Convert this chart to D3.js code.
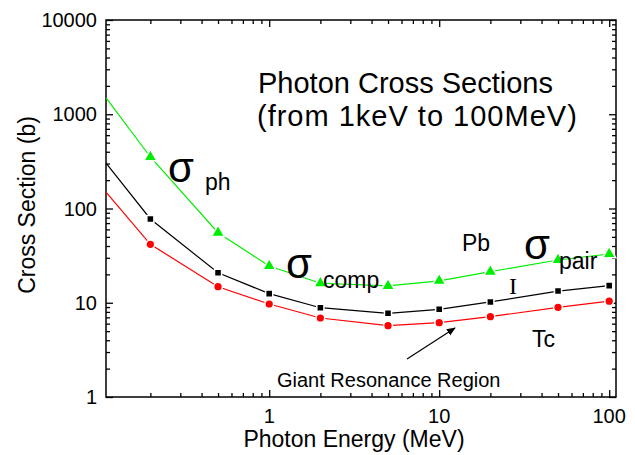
<!DOCTYPE html>
<html>

<head>
  <meta charset="utf-8">
  <style>
    body {
      margin: 0;
      background: #fff;
    }

    svg text {
      font-family: "Liberation Sans", Arial, sans-serif;
      fill: #000;
    }

    .axis path,
    .axis line {
      stroke: #000;
      stroke-width: 1.3px;
    }
  </style>
</head>

<body>
  <svg id="chart" width="635" height="455"></svg>

  <script src="https://d3js.org/d3.v7.min.js"></script>
  <script>
    // photon energies (MeV) where the markers sit
    var energies = [0.2, 0.5, 1, 2, 5, 10, 20, 50, 100];
    // curves start on the left frame edge
    var startEnergy = 0.11;

    // cross sections (b)
    var pbValues = [352, 55.4, 24.5, 16.1, 15.1, 17.1, 21.4, 28.4, 32.9];
    var pbStart = 1480;
    var iValues = [77.4, 20.8, 12.5, 8.86, 7.73, 8.52, 10.2, 13.3, 15.2];
    var iStart = 302;
    var tcValues = [41.7, 14.8, 9.7, 6.89, 5.71, 6.14, 7.11, 8.95, 10.4];
    var tcStart = 148;

    var xTickLabels = [1, 10, 100];
    var yTickLabels = [1, 10, 100, 1000, 10000];

    var svg = d3.select('#chart');
    var plotLeft = 106, plotRight = 616, plotTop = 20, plotBottom = 397;

    var x = d3.scaleLog()
      .domain([Math.pow(10, -0.96), Math.pow(10, 2.04)])
      .range([plotLeft, plotRight]);

    var y = d3.scaleLog()
      .domain([1, 10000])
      .range([plotBottom, plotTop]);

    // minor tick values
    var xMinor = [];
    [0.1, 1, 10].forEach(function (d) {
      for (var k = 2; k <= 9; k++) xMinor.push(d * k);
    });
    var yMinor = [];
    [1, 10, 100, 1000].forEach(function (d) {
      for (var k = 2; k <= 9; k++) yMinor.push(d * k);
    });

    function addAxis(axisFn, scale, values, size, transform) {
      svg.append('g')
        .attr('class', 'axis')
        .attr('transform', transform)
        .call(axisFn(scale).tickValues(values).tickSize(size).tickFormat(''))
        .call(function (g) { g.select('.domain').remove(); });
    }

    // inward ticks on all four sides
    addAxis(d3.axisBottom, x, xTickLabels, -7, 'translate(0,' + plotBottom + ')');
    addAxis(d3.axisBottom, x, xMinor, -4, 'translate(0,' + plotBottom + ')');
    addAxis(d3.axisTop, x, xTickLabels, -7, 'translate(0,' + plotTop + ')');
    addAxis(d3.axisTop, x, xMinor, -4, 'translate(0,' + plotTop + ')');
    addAxis(d3.axisLeft, y, yTickLabels, -7, 'translate(' + plotLeft + ',0)');
    addAxis(d3.axisLeft, y, yMinor, -4, 'translate(' + plotLeft + ',0)');
    addAxis(d3.axisRight, y, yTickLabels, -7, 'translate(' + plotRight + ',0)');
    addAxis(d3.axisRight, y, yMinor, -4, 'translate(' + plotRight + ',0)');

    // frame
    svg.append('rect')
      .attr('x', plotLeft)
      .attr('y', plotTop)
      .attr('width', plotRight - plotLeft)
      .attr('height', plotBottom - plotTop)
      .attr('fill', 'none')
      .attr('stroke', '#000')
      .attr('stroke-width', 1.5);

    // tick labels
    svg.append('g')
      .selectAll('text')
      .data(xTickLabels)
      .join('text')
      .attr('x', d => x(d))
      .attr('y', 423)
      .attr('text-anchor', 'middle')
      .style('font-size', '20px')
      .text(d => d);

    svg.append('g')
      .selectAll('text')
      .data(yTickLabels)
      .join('text')
      .attr('x', 97)
      .attr('y', d => y(d) + 7)
      .attr('text-anchor', 'end')
      .style('font-size', '20px')
      .text(d => d);

    // axis titles
    svg.append('text')
      .attr('x', 354)
      .attr('y', 447)
      .attr('text-anchor', 'middle')
      .style('font-size', '23px')
      .text('Photon Energy (MeV)');

    svg.append('text')
      .attr('transform', 'translate(35,205) rotate(-90)')
      .attr('text-anchor', 'middle')
      .style('font-size', '23px')
      .text('Cross Section (b)');

    // curves
    var line = d3.line()
      .x(d => x(d[0]))
      .y(d => y(d[1]));

    function drawSeries(values, start, color, symbol, size) {
      var pts = [[startEnergy, start]].concat(energies.map((e, i) => [e, values[i]]));
      svg.append('path')
        .datum(pts)
        .attr('d', line)
        .attr('fill', 'none')
        .attr('stroke', color)
        .attr('stroke-width', 1.2);

      svg.append('g')
        .selectAll('path')
        .data(pts.slice(1))
        .join('path')
        .attr('transform', d => 'translate(' + x(d[0]) + ',' + y(d[1]) + ')')
        .attr('d', d3.symbol().type(symbol).size(size))
        .attr('fill', color)
        .attr('stroke', '#fff')
        .attr('stroke-width', 1.5);
    }

    drawSeries(tcValues, tcStart, '#ff0000', d3.symbolCircle, 60);
    drawSeries(iValues, iStart, '#000000', d3.symbolSquare, 50);
    drawSeries(pbValues, pbStart, '#00ee00', d3.symbolTriangle, 75);

    // title
    svg.append('text')
      .attr('x', 258)
      .attr('y', 93)
      .style('font-size', '29px')
      .text('Photon Cross Sections');
    svg.append('text')
      .attr('x', 257)
      .attr('y', 126)
      .style('font-size', '29px')
      .style('letter-spacing', '1px')
      .text('(from 1keV to 100MeV)');

    // sigma labels
    function sigma(xs, ys, sub, xsub, ysub) {
      svg.append('text')
        .attr('x', xs)
        .attr('y', ys)
        .style('font-size', '42px')
        .text('σ');
      svg.append('text')
        .attr('x', xsub)
        .attr('y', ysub)
        .style('font-size', '23px')
        .text(sub);
    }

    sigma(168, 182, 'ph', 205, 190);
    sigma(286, 278, 'comp', 323, 288);
    sigma(524, 259, 'pair', 559, 269);

    // element labels
    svg.append('text')
      .attr('x', 462)
      .attr('y', 251)
      .style('font-size', '23px')
      .text('Pb');
    svg.append('text')
      .attr('x', 513)
      .attr('y', 294)
      .attr('text-anchor', 'middle')
      .style('font-family', '"Liberation Serif", serif')
      .style('font-size', '24px')
      .text('I');
    svg.append('text')
      .attr('x', 532)
      .attr('y', 347)
      .style('font-size', '23px')
      .text('Tc');

    // giant resonance arrow
    svg.append('defs')
      .append('marker')
      .attr('id', 'arrow')
      .attr('viewBox', '0 0 10 10')
      .attr('refX', 9)
      .attr('refY', 5)
      .attr('markerWidth', 9)
      .attr('markerHeight', 9)
      .attr('markerUnits', 'userSpaceOnUse')
      .attr('orient', 'auto')
      .append('path')
      .attr('d', 'M0,1 L10,5 L0,9 Z')
      .attr('fill', '#000');

    svg.append('line')
      .attr('x1', 407)
      .attr('y1', 359)
      .attr('x2', 455)
      .attr('y2', 328)
      .attr('stroke', '#000')
      .attr('stroke-width', 1.2)
      .attr('marker-end', 'url(#arrow)');

    svg.append('text')
      .attr('x', 277)
      .attr('y', 387)
      .style('font-size', '20px')
      .text('Giant Resonance Region');
  </script>
</body>

</html>
